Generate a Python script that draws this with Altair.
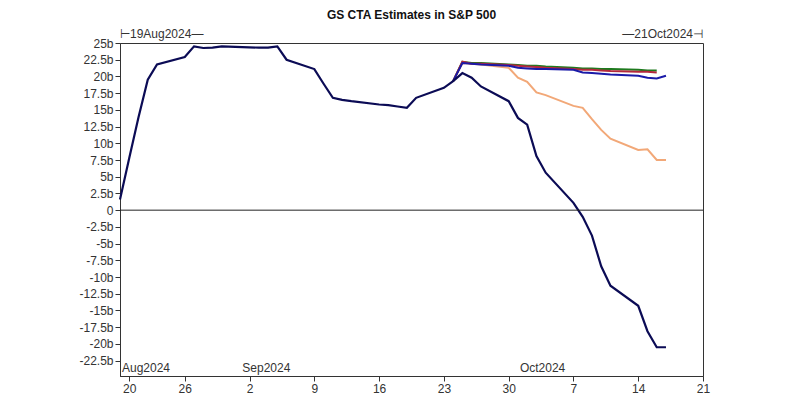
import altair as alt
import pandas as pd

# ---- data (values in billions USD) ----
hist_dates = ["2024-08-19", "2024-08-20", "2024-08-21", "2024-08-22", "2024-08-23",
              "2024-08-26", "2024-08-27", "2024-08-28", "2024-08-29", "2024-08-30",
              "2024-09-03", "2024-09-04", "2024-09-05", "2024-09-06", "2024-09-09",
              "2024-09-10", "2024-09-11", "2024-09-12", "2024-09-13", "2024-09-16",
              "2024-09-17", "2024-09-18", "2024-09-19", "2024-09-20", "2024-09-23",
              "2024-09-24", "2024-09-25", "2024-09-26", "2024-09-27", "2024-09-30",
              "2024-10-01", "2024-10-02", "2024-10-03", "2024-10-04", "2024-10-07",
              "2024-10-08", "2024-10-09", "2024-10-10", "2024-10-11", "2024-10-14",
              "2024-10-15", "2024-10-16", "2024-10-17"]
navy_vals = [1.6, 7.8, 13.9, 19.5, 21.8,
             22.9, 24.5, 24.25, 24.3, 24.5,
             24.3, 24.3, 24.5, 22.5, 21.1,
             18.9, 16.8, 16.5, 16.3, 15.8,
             15.7, 15.5, 15.3, 16.8, 18.3,
             19.3, 20.5, 19.8, 18.5, 16.3,
             13.8, 12.8, 8.1, 5.6, 1.1,
             -1.0, -3.8, -8.4, -11.3, -14.3,
             -18.1, -20.5, -20.5]

scen_dates = ["2024-09-24", "2024-09-25", "2024-09-26", "2024-09-27", "2024-09-30",
              "2024-10-01", "2024-10-02", "2024-10-03", "2024-10-04", "2024-10-07",
              "2024-10-08", "2024-10-09", "2024-10-10", "2024-10-11", "2024-10-14",
              "2024-10-15", "2024-10-16", "2024-10-17"]
orange_vals = [19.3, 22.0, 21.9, 21.8, 21.3, 19.8, 19.2, 17.6, 17.2, 15.6,
               15.3, 13.6, 12.0, 10.7, 9.0, 9.1, 7.5, 7.5]
blue_vals = [19.3, 22.0, 21.9, 21.8, 21.6, 21.3, 21.2, 21.1, 21.1, 21.0,
             20.6, 20.5, 20.4, 20.3, 20.1, 19.8, 19.7, 20.1]
green_vals = [19.3, 22.2, 22.0, 22.0, 21.8, 21.7, 21.6, 21.6, 21.5, 21.3,
              21.2, 21.2, 21.1, 21.1, 21.0, 20.9, 20.9]
red_vals = [19.3, 22.2, 21.9, 21.9, 21.7, 21.6, 21.5, 21.4, 21.3, 21.1,
            21.0, 21.0, 20.9, 20.8, 20.7, 20.7, 20.6]

series_names = ["Scenario A", "Scenario B", "Scenario C", "Scenario D", "Estimate"]
series_colors = ["#f2a878", "#1e7a1e", "#b4283c", "#1a1aa8", "#0b0b55"]

tick_dates = ["2024-08-20", "2024-08-26", "2024-09-02", "2024-09-09", "2024-09-16",
              "2024-09-23", "2024-09-30", "2024-10-07", "2024-10-14", "2024-10-21"]
y_ticks = [-22.5, -20, -17.5, -15, -12.5, -10, -7.5, -5, -2.5, 0,
           2.5, 5, 7.5, 10, 12.5, 15, 17.5, 20, 22.5, 25]
month_dates = ["2024-08-19", "2024-09-01", "2024-10-01"]
month_labels = ["Aug2024", "Sep2024", "Oct2024"]
range_dates = ["2024-08-19", "2024-10-21"]
range_labels = ["\u22a219Aug2024\u2014", "\u201421Oct2024\u22a3"]
title_text = "GS CTA Estimates in S&P 500"

W, H = 583, 333
FONT = "Liberation Sans"
ms = lambda d: int(pd.Timestamp(d, tz="UTC").timestamp() * 1000)

frames = []
for name, d, v in [
    ("Scenario A", scen_dates, orange_vals),
    ("Scenario B", scen_dates[:len(green_vals)], green_vals),
    ("Scenario C", scen_dates[:len(red_vals)], red_vals),
    ("Scenario D", scen_dates, blue_vals),
    ("Estimate", hist_dates, navy_vals),
]:
    frames.append(pd.DataFrame({"date": d, "value": v, "series": name}))
df = pd.concat(frames, ignore_index=True)

x_scale = alt.Scale(type="utc", domain=[ms(range_dates[0]), ms(range_dates[1])])
y_scale = alt.Scale(domain=[-24.8, 25], nice=False, zero=False)
color_scale = alt.Scale(domain=series_names, range=series_colors)

x_axis = alt.Axis(values=[ms(t) for t in tick_dates],
                  labelExpr="utcFormat(datum.value, '%-d')",
                  title=None, grid=False, tickSize=5, labelPadding=2,
                  domainColor="#333", tickColor="#333", labelColor="#333",
                  labelFont=FONT, labelFontSize=12, labelFlush=False)
y_axis = alt.Axis(values=y_ticks,
                  labelExpr="datum.value == 0 ? '0' : datum.value + 'b'",
                  title=None, grid=False, tickSize=5, labelPadding=2,
                  domainColor="#333", tickColor="#333", labelColor="#333",
                  labelFont=FONT, labelFontSize=12, labelFlush=False)

X = lambda: alt.X("date:T", scale=x_scale, axis=x_axis)

layers = []
for name in series_names:
    sub = df[df["series"] == name]
    lyr = alt.Chart(sub).mark_line(strokeWidth=2.2 if name == "Estimate" else 2,
                                   interpolate="linear").encode(
        x=X(),
        y=alt.Y("value:Q", scale=y_scale, axis=y_axis),
        color=alt.Color("series:N", scale=color_scale, legend=None),
    )
    layers.append(lyr)

zero_rule = alt.Chart(pd.DataFrame({"value": [0]})).mark_rule(
    color="#222", strokeWidth=1).encode(y=alt.Y("value:Q", scale=y_scale, axis=y_axis))

months = alt.Chart(pd.DataFrame({"date": month_dates, "label": month_labels})).mark_text(
    align="left", baseline="alphabetic", dx=2, font=FONT, fontSize=12, color="#333"
).encode(x=X(), y=alt.value(H - 4), text="label:N")

range_left = alt.Chart(pd.DataFrame({"date": [range_dates[0]], "label": [range_labels[0]]})).mark_text(
    align="left", baseline="alphabetic", font=FONT, fontSize=12, color="#333"
).encode(x=X(), y=alt.value(-5), text="label:N")

range_right = alt.Chart(pd.DataFrame({"date": [range_dates[1]], "label": [range_labels[1]]})).mark_text(
    align="right", baseline="alphabetic", font=FONT, fontSize=12, color="#333"
).encode(x=X(), y=alt.value(-5), text="label:N")

title = alt.Chart(pd.DataFrame({"t": [title_text]})).mark_text(
    baseline="alphabetic", align="center", font=FONT, fontSize=12,
    fontWeight="bold", color="#111"
).encode(x=alt.value(W / 2), y=alt.value(-24), text="t:N")

chart = alt.layer(*layers, zero_rule, months, range_left, range_right, title).properties(
    width=W, height=H,
    background="white",
    autosize=alt.AutoSizeParams(type="none"),
    padding={"left": 112, "top": 35, "right": 89, "bottom": 18},
).configure_view(stroke="#333", strokeWidth=1)

chart.save("out.html", embed_options={"renderer": "svg", "actions": False})
